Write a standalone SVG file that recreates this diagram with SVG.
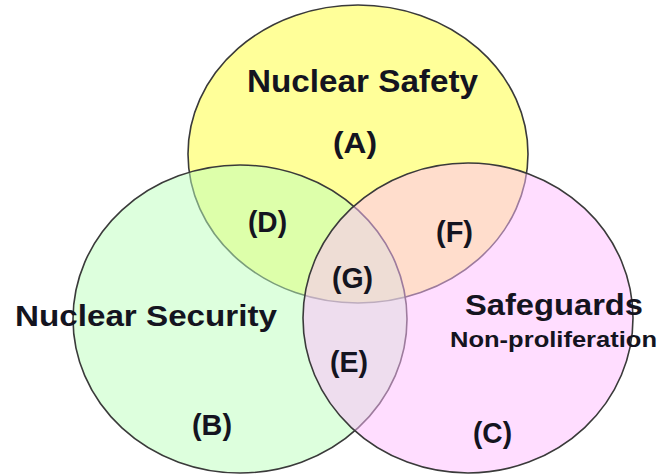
<svg xmlns="http://www.w3.org/2000/svg" width="662" height="475" viewBox="0 0 662 475">
  <style>
    .set { stroke: #3a3a3a; stroke-width: 1.6; }
    .t { font-family: "Liberation Sans", Arial, sans-serif; font-weight: bold; fill: #141420; }
    .lbl { font-size: 29px; }
  </style>
  <rect x="0" y="0" width="662" height="475" fill="#ffffff"/>
  <g id="node-safety">
    <ellipse class="set" cx="358" cy="154" rx="170" ry="149" fill="#ffff33" fill-opacity="0.5"/>
    <text class="t" x="247" y="92" font-size="32" textLength="231" lengthAdjust="spacingAndGlyphs">Nuclear Safety</text>
    <text class="t lbl" x="333" y="153" textLength="44" lengthAdjust="spacingAndGlyphs">(A)</text>
  </g>
  <g id="node-security">
    <ellipse class="set" cx="240" cy="319" rx="167" ry="154" fill="#bbffbb" fill-opacity="0.5"/>
    <text class="t lbl" x="192" y="435" textLength="40" lengthAdjust="spacingAndGlyphs">(B)</text>
  </g>
  <g id="node-safeguards">
    <ellipse class="set" cx="468" cy="318" rx="165" ry="155" fill="#ffbbff" fill-opacity="0.5"/>
    <text class="t lbl" x="473" y="443" textLength="39" lengthAdjust="spacingAndGlyphs">(C)</text>
  </g>
  <g id="set-titles">
    <text class="t" x="15" y="326" font-size="30" textLength="262" lengthAdjust="spacingAndGlyphs">Nuclear Security</text>
    <text class="t" x="465" y="315" font-size="30" textLength="178" lengthAdjust="spacingAndGlyphs">Safeguards</text>
    <text class="t" x="450" y="347" font-size="22" textLength="207" lengthAdjust="spacingAndGlyphs">Non-proliferation</text>
  </g>
  <g id="intersections">
    <text class="t lbl" x="248" y="232" textLength="39" lengthAdjust="spacingAndGlyphs">(D)</text>
    <text class="t lbl" x="436" y="242" textLength="37" lengthAdjust="spacingAndGlyphs">(F)</text>
    <text class="t lbl" x="332" y="288" textLength="41" lengthAdjust="spacingAndGlyphs">(G)</text>
    <text class="t lbl" x="330" y="372" textLength="38" lengthAdjust="spacingAndGlyphs">(E)</text>
  </g>
</svg>
